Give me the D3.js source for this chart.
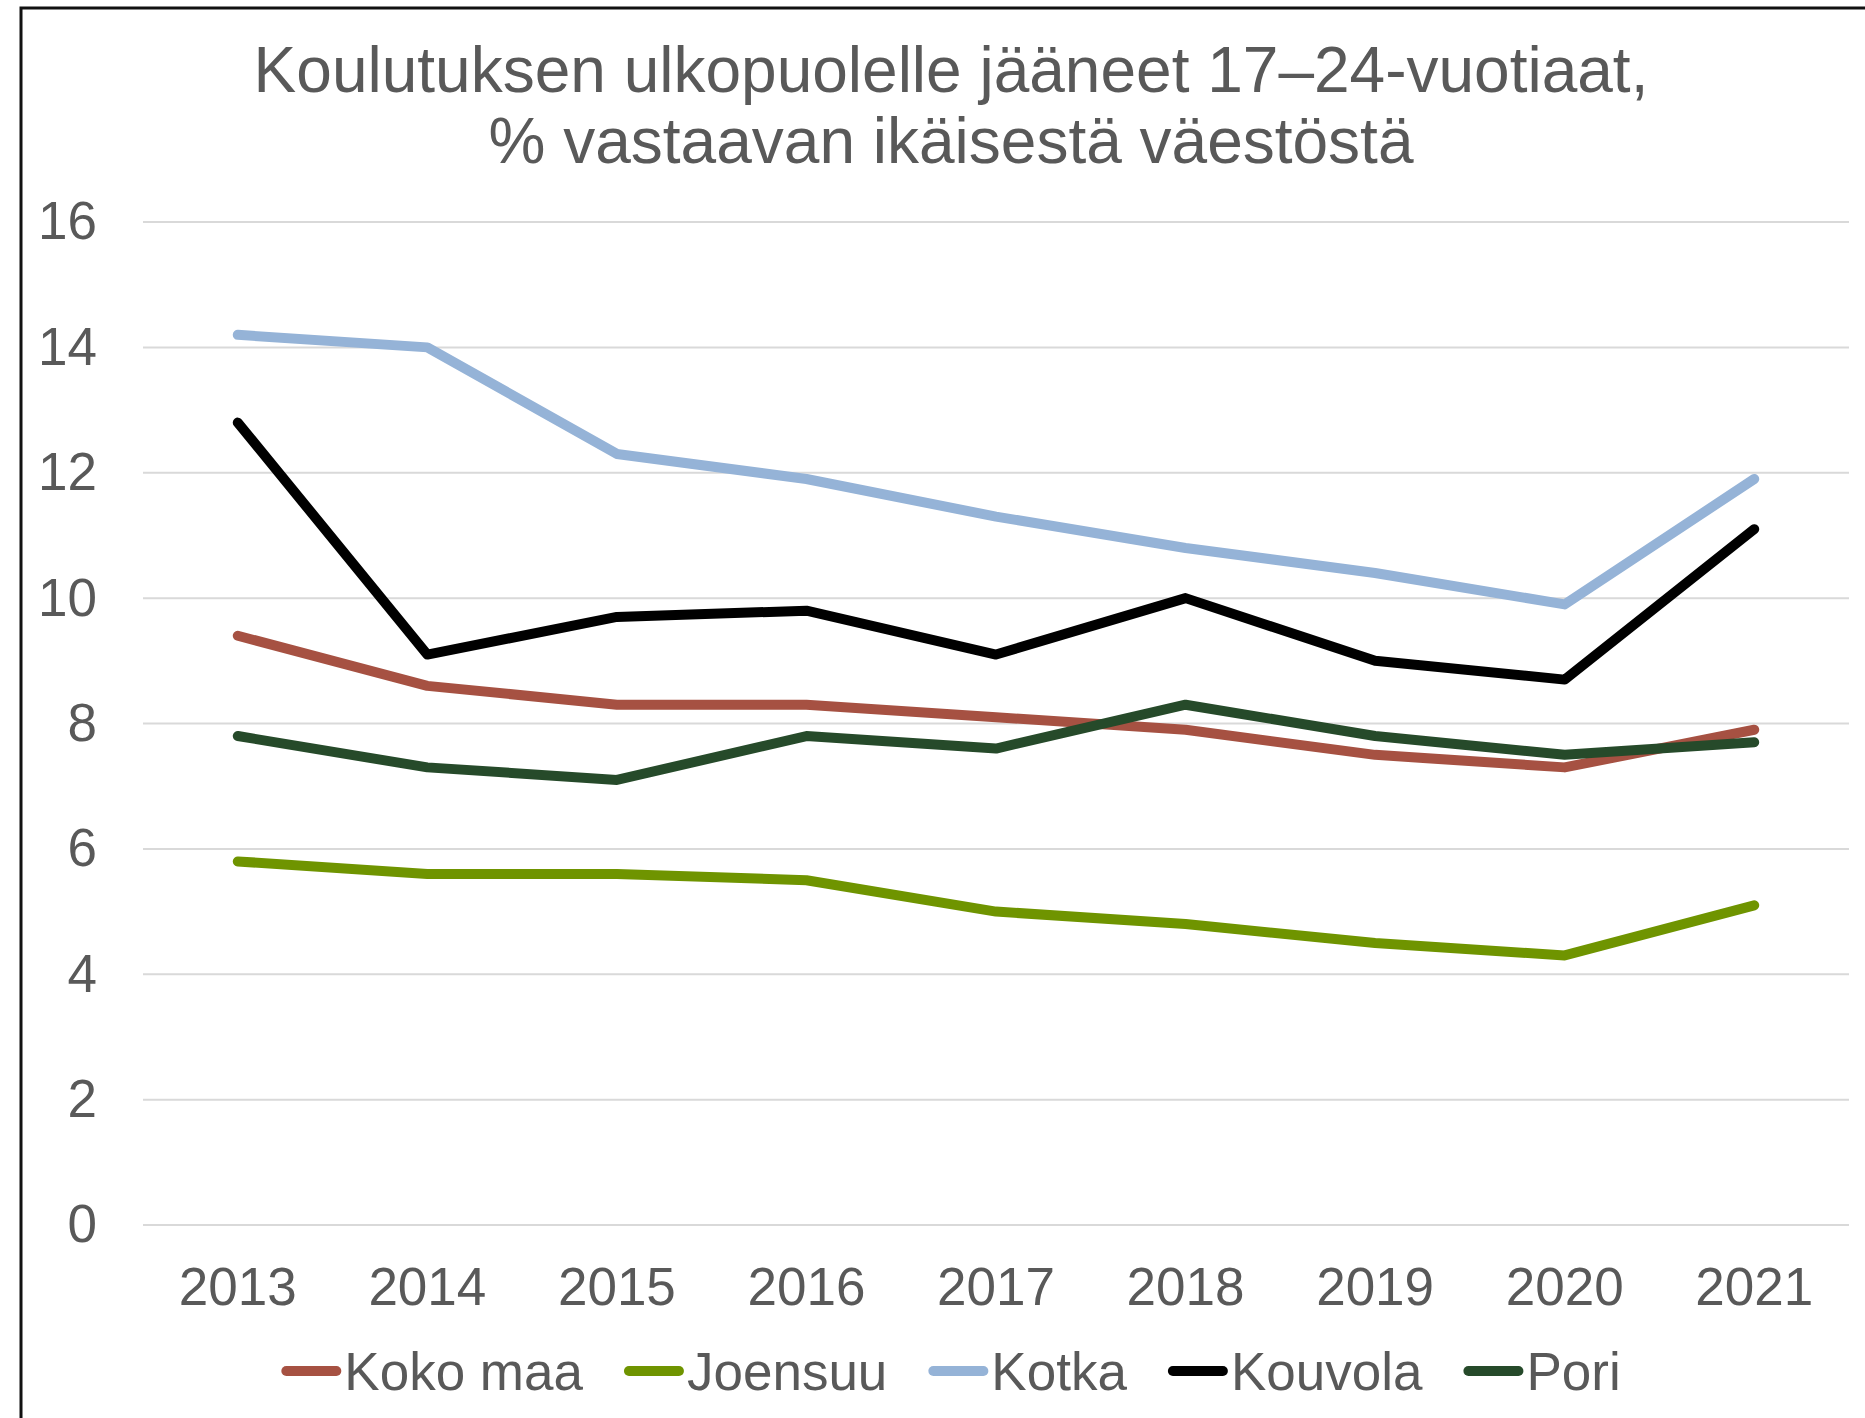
<meta charset="utf-8">
<script src="https://d3js.org/d3.v7.min.js"></script>
<style>
body { margin: 0; background: white; }
svg { font-family: 'Liberation Sans', Arial, sans-serif; }
</style>
<body>
<div id="chart"></div>
<script>
// data
var years = ["2013", "2014", "2015", "2016", "2017", "2018", "2019", "2020", "2021"];
var kokoMaa = [9.4, 8.6, 8.3, 8.3, 8.1, 7.9, 7.5, 7.3, 7.9];
var joensuu = [5.8, 5.6, 5.6, 5.5, 5.0, 4.8, 4.5, 4.3, 5.1];
var kotka   = [14.2, 14.0, 12.3, 11.9, 11.3, 10.8, 10.4, 9.9, 11.9];
var kouvola = [12.8, 9.1, 9.7, 9.8, 9.1, 10.0, 9.0, 8.7, 11.1];
var pori    = [7.8, 7.3, 7.1, 7.8, 7.6, 8.3, 7.8, 7.5, 7.7];
var seriesNames = ["Koko maa", "Joensuu", "Kotka", "Kouvola", "Pori"];
var yTicks = [0, 2, 4, 6, 8, 10, 12, 14, 16];
var titleLines = ["Koulutuksen ulkopuolelle jääneet 17–24-vuotiaat,", "% vastaavan ikäisestä väestöstä"];

var series = [
  {name: seriesNames[0], values: kokoMaa, color: "#a65142"},
  {name: seriesNames[1], values: joensuu, color: "#6f9400"},
  {name: seriesNames[2], values: kotka,   color: "#95b3d7"},
  {name: seriesNames[3], values: kouvola, color: "#000000"},
  {name: seriesNames[4], values: pori,    color: "#264a2a"}
];

var W = 1865, H = 1418;
var textColor = "#595959";

var svg = d3.select("#chart").append("svg")
    .attr("width", W)
    .attr("height", H);

svg.append("rect")
    .attr("width", W).attr("height", H)
    .attr("fill", "white");

// outer frame (cut off right and bottom)
svg.append("rect")
    .attr("x", 21).attr("y", 8)
    .attr("width", W + 50).attr("height", H + 50)
    .attr("fill", "none")
    .attr("stroke", "#111")
    .attr("stroke-width", 3);

// title
svg.append("g").selectAll("text")
    .data(titleLines)
    .enter().append("text")
    .attr("x", 951)
    .attr("y", function(d, i) { return 92 + i * 71; })
    .attr("text-anchor", "middle")
    .attr("font-size", 64)
    .attr("fill", textColor)
    .text(function(d) { return d; });

// scales
var x = d3.scaleBand()
    .domain(years)
    .range([143, 1849]);

var y = d3.scaleLinear()
    .domain([0, 16])
    .range([1225, 222]);

// gridlines
svg.append("g").selectAll("line")
    .data(yTicks)
    .enter().append("line")
    .attr("x1", 143).attr("x2", 1849)
    .attr("y1", function(d) { return y(d); })
    .attr("y2", function(d) { return y(d); })
    .attr("stroke", "#d9d9d9")
    .attr("stroke-width", 2);

// y axis labels
var yAxis = svg.append("g")
    .attr("transform", "translate(102,0)")
    .call(d3.axisLeft(y).tickValues(yTicks).tickSize(0).tickPadding(5));
yAxis.select(".domain").remove();
yAxis.selectAll("text")
    .attr("font-size", 53)
    .attr("font-family", "'Liberation Sans', Arial, sans-serif")
    .attr("fill", textColor);

// x axis labels
var xAxis = svg.append("g")
    .attr("transform", "translate(0,1225)")
    .call(d3.axisBottom(x).tickSize(0).tickPadding(42));
xAxis.select(".domain").remove();
xAxis.selectAll("text")
    .attr("font-size", 53)
    .attr("font-family", "'Liberation Sans', Arial, sans-serif")
    .attr("fill", textColor);

// lines
var line = d3.line()
    .x(function(d, i) { return x(years[i]) + x.bandwidth() / 2; })
    .y(function(d) { return y(d); });

svg.append("g").selectAll("path")
    .data(series)
    .enter().append("path")
    .attr("d", function(d) { return line(d.values); })
    .attr("fill", "none")
    .attr("stroke", function(d) { return d.color; })
    .attr("stroke-width", 10)
    .attr("stroke-linecap", "round")
    .attr("stroke-linejoin", "round");

// legend
var legend = svg.append("g");
var items = legend.selectAll("g")
    .data(series)
    .enter().append("g");
items.append("line")
    .attr("x1", 5).attr("x2", 55)
    .attr("y1", 0).attr("y2", 0)
    .attr("stroke", function(d) { return d.color; })
    .attr("stroke-width", 10)
    .attr("stroke-linecap", "round");
items.append("text")
    .attr("x", 63)
    .attr("y", 19)
    .attr("font-size", 53)
    .attr("fill", textColor)
    .text(function(d) { return d.name; });

var gap = 41;
var pos = 0;
items.each(function() {
    var g = d3.select(this);
    var w = 63 + g.select("text").node().getComputedTextLength();
    g.attr("data-x", pos);
    pos += w + gap;
});
var total = pos - gap;
var start = 951 - total / 2;
items.attr("transform", function() {
    return "translate(" + (start + +this.getAttribute("data-x")) + ",1371)";
});
</script>
</body>
